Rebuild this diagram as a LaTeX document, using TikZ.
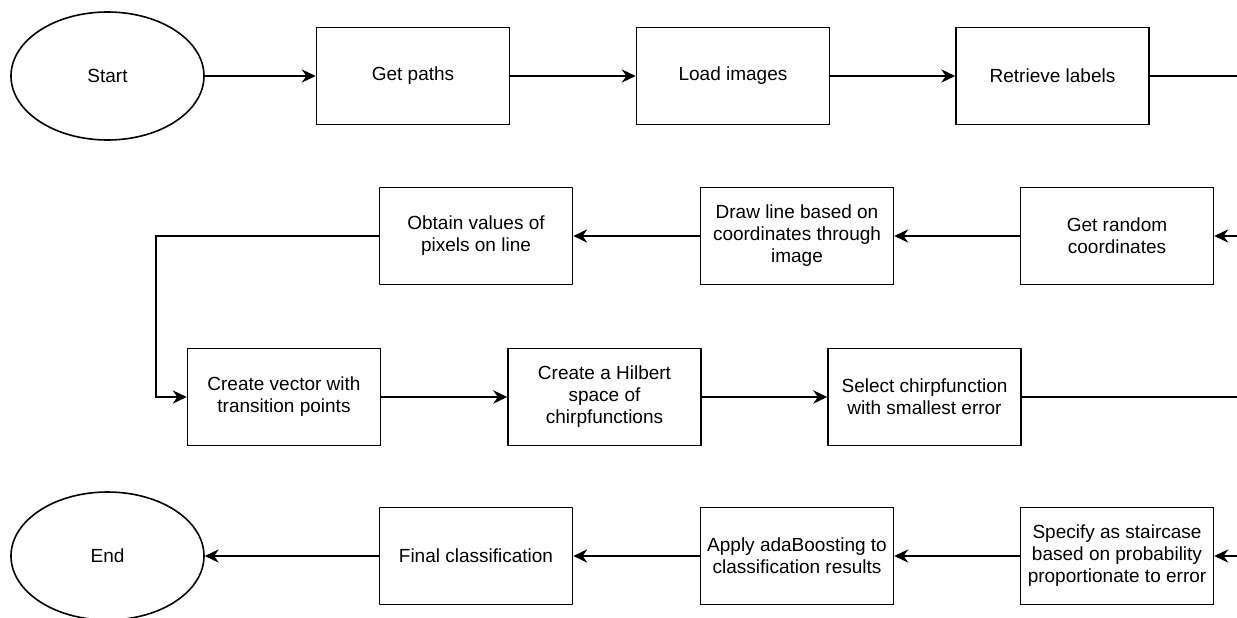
\documentclass[tikz,border=0pt]{standalone}
\usepackage{fontspec}
\setmainfont{Liberation Sans}
\usetikzlibrary{shapes.geometric,arrows.meta}
\begin{document}
\begin{tikzpicture}[x=0.75pt,y=-0.75pt,
  font=\fontsize{14.25pt}{16.5pt}\selectfont,
  box/.style={draw,line width=1.2pt,minimum width=144.75pt,minimum height=72.75pt,align=center,inner sep=0pt},
  oval/.style={draw,ellipse,line width=1.2pt,minimum width=144.75pt,minimum height=96pt,inner sep=0pt},
  conn/.style={line width=1.2pt,-{Stealth[length=10.5pt,width=10pt,inset=3.5pt]}},
  plain/.style={line width=1.2pt}]
\useasboundingbox (0,0) rectangle (1237,617);
% row 1
\node[oval] (start) at (107.5,76) {Start};
\node[box] (paths) at (413,76) {Get paths};
\node[box] (load) at (733,76) {Load images};
\node[box] (labels) at (1052.5,76) {Retrieve labels};
% row 2
\node[box] (random) at (1117,236) {Get random\\coordinates};
\node[box] (drawline) at (797,236) {Draw line based on\\coordinates through\\image};
\node[box] (obtain) at (476,236) {Obtain values of\\pixels on line};
% row 3
\node[box] (vector) at (284,397) {Create vector with\\transition points};
\node[box] (hilbert) at (604.5,397) {Create a Hilbert\\space of\\chirpfunctions};
\node[box] (select) at (924.5,397) {Select chirpfunction\\with smallest error};
% row 4
\node[box] (specify) at (1117,556) {Specify as staircase\\based on probability\\proportionate to error};
\node[box] (apply) at (797,556) {Apply adaBoosting to\\classification results};
\node[box] (final) at (476,556) {Final classification};
\node[oval] (end) at (107.5,556) {End};
% free ends at the right edge
\coordinate (r1) at (1237,76);
\coordinate (r2) at (1237,236);
\coordinate (r3) at (1237,397);
\coordinate (r4) at (1237,556);
\coordinate (bend) at (156,236);
% connectors
\draw[conn] (start.east) -- (paths.west);
\draw[conn] (paths.east) -- (load.west);
\draw[conn] (load.east) -- (labels.west);
\draw[plain] (labels.east) -- (r1);
\draw[conn] (r2) -- (random.east);
\draw[conn] (random.west) -- (drawline.east);
\draw[conn] (drawline.west) -- (obtain.east);
\draw[conn] (obtain.west) -- (bend) |- (vector.west);
\draw[conn] (vector.east) -- (hilbert.west);
\draw[conn] (hilbert.east) -- (select.west);
\draw[plain] (select.east) -- (r3);
\draw[conn] (r4) -- (specify.east);
\draw[conn] (specify.west) -- (apply.east);
\draw[conn] (apply.west) -- (final.east);
\draw[conn] (final.west) -- (end.east);
\end{tikzpicture}
\end{document}
